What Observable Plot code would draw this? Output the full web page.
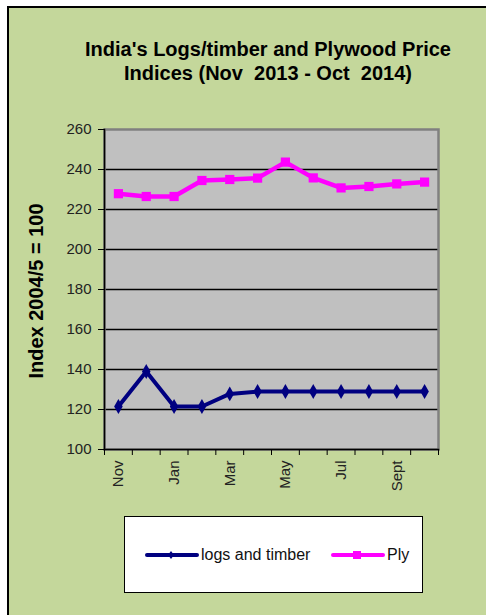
<!DOCTYPE html>
<html>
<head>
<meta charset="utf-8">
<script src="https://cdn.jsdelivr.net/npm/d3@7"></script>
<script src="https://cdn.jsdelivr.net/npm/@observablehq/plot@0.6"></script>
<style>
  html, body { margin: 0; padding: 0; background: #ffffff; }
  body { width: 486px; height: 615px; position: relative; overflow: hidden; font-family: "Liberation Sans", Arial, sans-serif; }
  #bg { position: absolute; left: 7px; top: 6px; width: 479px; height: 609px; background: #c4d79b; border-left: 2px solid #000; border-top: 2px solid #000; box-sizing: border-box; }
  #title { position: absolute; left: 68px; width: 400px; top: 37px; text-align: center; font-weight: bold; font-size: 20px; line-height: 24px; color: #000; white-space: pre; }
  #ytitle { position: absolute; left: 36px; top: 291px; transform: translate(-50%, -50%) rotate(-90deg); font-weight: bold; font-size: 20px; white-space: pre; color: #000; }
  #chart { position: absolute; left: 0; top: 0; }
  #chart svg text { font-size: 15px; fill: #222; }
  #legend { position: absolute; left: 124px; top: 516px; width: 299px; height: 77px; background: #fff; border: 1.5px solid #000; box-sizing: border-box; }
  .item { position: absolute; top: 29px; font-size: 16px; line-height: 18px; color: #111; display: flex; align-items: center; }
  .item svg { margin-right: 2px; }
</style>
</head>
<body>
<div id="bg"></div>
<div id="title"></div>
<div id="ytitle"></div>
<div id="chart"></div>
<div id="legend"></div>
<script>
const titleLines = ["India's Logs/timber and Plywood Price", "Indices (Nov  2013 - Oct  2014)"];
const yTitle = "Index 2004/5 = 100";
const months = ["Nov", "Dec", "Jan", "Feb", "Mar", "Apr", "May", "Jun", "Jul", "Aug", "Sep", "Oct"];
const monthLabels = ["Nov", "", "Jan", "", "Mar", "", "May", "", "Jul", "", "Sept", ""];
const logsTimber = [121.5, 139, 121.5, 121.5, 127.8, 129, 129, 129, 129, 129, 129, 129];
const ply = [227.9, 226.5, 226.5, 234.5, 235, 235.7, 243.7, 235.8, 230.8, 231.5, 232.8, 233.7];
const yTicks = [100, 120, 140, 160, 180, 200, 220, 240, 260];
const seriesNames = ["logs and timber", "Ply"];
const seriesColors = ["#000080", "#ff00ff"];

document.getElementById("title").textContent = titleLines.join("\n");
document.getElementById("ytitle").textContent = yTitle;

const logsData = months.map((m, i) => ({i, m, v: logsTimber[i]}));
const plyData = months.map((m, i) => ({i, m, v: ply[i]}));
const boundaries = d3.range(months.length + 1).map(i => i - 0.5);
const labelIdx = d3.range(months.length).filter(i => monthLabels[i] !== "");

const chart = Plot.plot({
  width: 486,
  height: 500,
  marginLeft: 104,
  marginRight: 48,
  marginTop: 129,
  marginBottom: 51,
  style: { background: "transparent", fontFamily: "'Liberation Sans', Arial, sans-serif", fontSize: "15px", color: "#222", overflow: "visible" },
  x: { type: "linear", domain: [-0.5, months.length - 0.5] },
  y: { domain: [100, 260] },
  marks: [
    Plot.frame({ fill: "#c0c0c0" }),
    Plot.gridY(yTicks.filter(t => t > 100 && t < 260), { stroke: "#000", strokeOpacity: 1, strokeWidth: 1.3 }),
    Plot.frame({ stroke: "#808080", strokeWidth: 2.5 }),
    Plot.frame({ anchor: "left", stroke: "#000", strokeWidth: 1.5 }),
    Plot.frame({ anchor: "bottom", stroke: "#000", strokeWidth: 1.5 }),
    Plot.axisY({ ticks: yTicks, tickSize: 6, tickPadding: 7, label: null, fontSize: 15, stroke: "#000", strokeWidth: 1 }),
    Plot.axisX({ ticks: boundaries, tickSize: 6, tickFormat: () => "", label: null, stroke: "#000" }),
    Plot.axisX({ ticks: labelIdx, tickSize: 0, tickPadding: 11, tickRotate: -90, tickFormat: i => monthLabels[i], label: null, fontSize: 15 }),
    Plot.line(logsData, { x: "i", y: "v", stroke: seriesColors[0], strokeWidth: 4 }),
    Plot.dot(logsData, { x: "i", y: "v", symbol: "diamond", r: 4.5, fill: seriesColors[0] }),
    Plot.line(plyData, { x: "i", y: "v", stroke: seriesColors[1], strokeWidth: 4.5 }),
    Plot.dot(plyData, { x: "i", y: "v", symbol: "square", r: 5.2, fill: seriesColors[1] })
  ]
});
document.getElementById("chart").appendChild(chart);

// Legend
const legend = document.getElementById("legend");
const positions = [20, 206];
seriesNames.forEach((name, k) => {
  const item = document.createElement("div");
  item.className = "item";
  item.style.left = positions[k] + "px";
  const sym = k === 0
    ? `<path d="M26 -4 L29 0 L26 4 L23 0 Z" fill="${seriesColors[0]}" transform="translate(0,9)"/>`
    : `<rect x="22" y="5" width="8" height="8" fill="${seriesColors[1]}"/>`;
  item.innerHTML = `<svg width="54" height="18"><line x1="2" x2="52" y1="9" y2="9" stroke="${seriesColors[k]}" stroke-width="4" stroke-linecap="round"/>${sym}</svg><span>${name}</span>`;
  legend.appendChild(item);
});
</script>
</body>
</html>
